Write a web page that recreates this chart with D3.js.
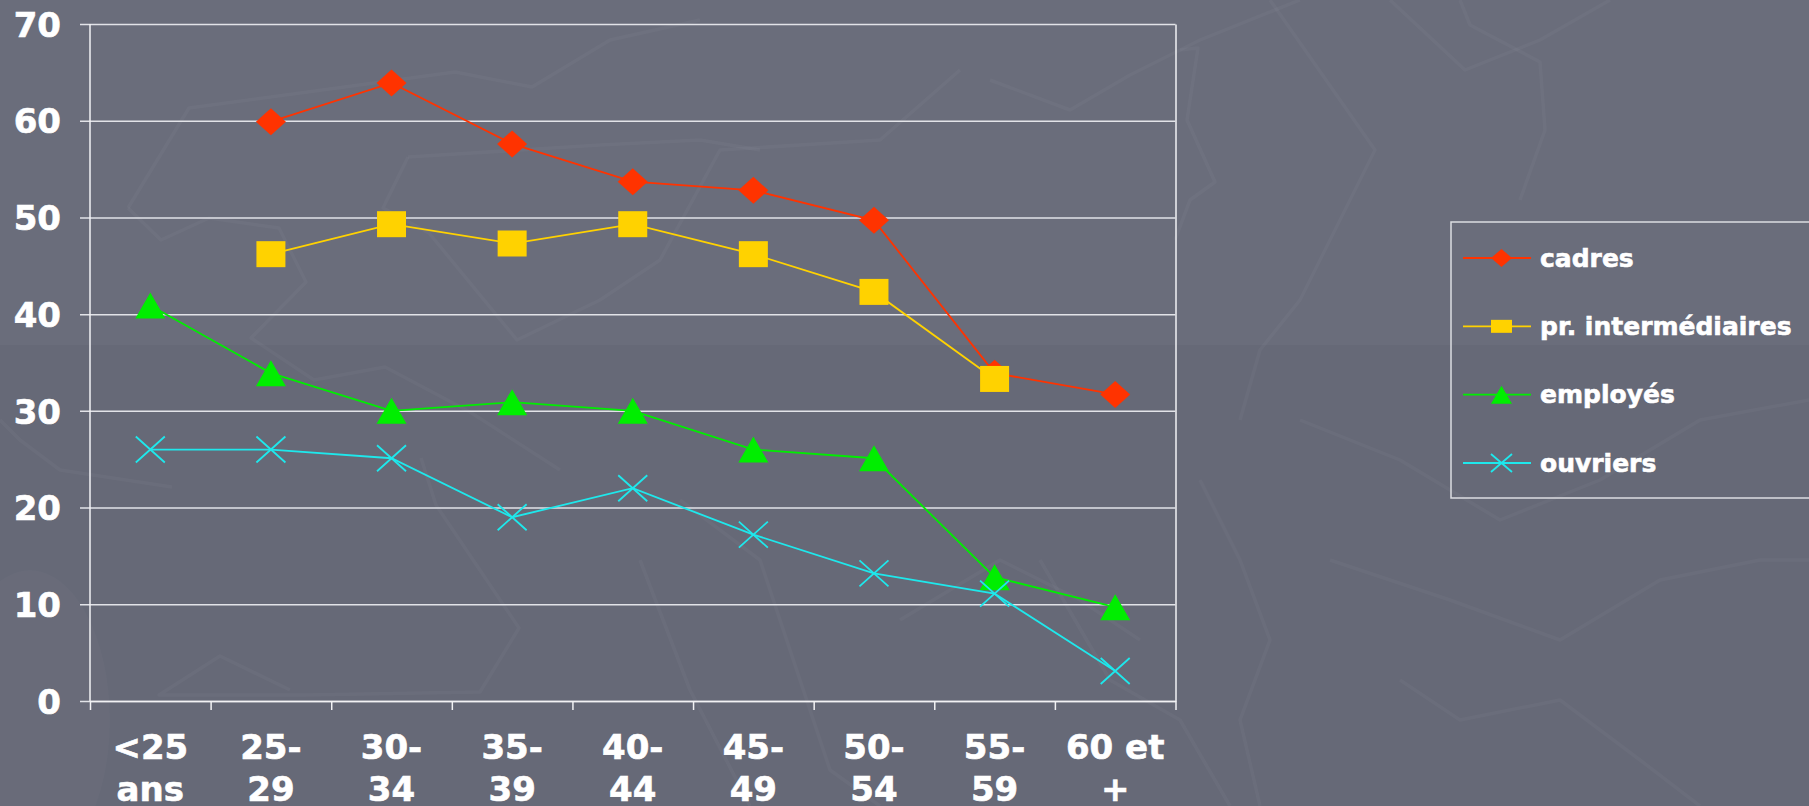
<!DOCTYPE html>
<html>
<head>
<meta charset="utf-8">
<script src="https://cdn.jsdelivr.net/npm/d3@7"></script>
<style>
  html, body { margin: 0; padding: 0; background: #686b79; }
  svg { display: block; }
  text { font-family: "DejaVu Sans", Verdana, sans-serif; font-weight: bold; fill: #ffffff;
         stroke: #ffffff; stroke-width: 0.6px; }
</style>
</head>
<body>
<svg id="chart" width="1809" height="806"></svg>
<script>
// Age groups (two-line axis labels)
const categories = ["<25 ans", "25-29", "30-34", "35-39", "40-44", "45-49", "50-54", "55-59", "60 et +"];
const categoryLines = [["<25", "ans"], ["25-", "29"], ["30-", "34"], ["35-", "39"], ["40-", "44"],
                       ["45-", "49"], ["50-", "54"], ["55-", "59"], ["60 et", "+"]];

// Series values per age group (null = no value)
const cadres   = [null, 59.9, 63.9, 57.6, 53.7, 52.8, 49.7, 33.9, 31.7];
const prInter  = [null, 46.2, 49.3, 47.3, 49.3, 46.2, 42.3, 33.3, null];
const employes = [40.9, 33.9, 30.0, 30.9, 30.0, 26.0, 25.1, 12.8, 9.7];
const ouvriers = [26.0, 26.0, 25.1, 19.0, 22.0, 17.2, 13.2, 11.1, 3.1];

const seriesNames = ["cadres", "pr. intermédiaires", "employés", "ouvriers"];
const yTicks = [0, 10, 20, 30, 40, 50, 60, 70];

const seriesList = [
  { name: seriesNames[0], values: cadres,   color: "#ff3300", marker: "diamond" },
  { name: seriesNames[1], values: prInter,  color: "#ffd200", marker: "square" },
  { name: seriesNames[2], values: employes, color: "#00ee00", marker: "triangle" },
  { name: seriesNames[3], values: ouvriers, color: "#1ee8ec", marker: "cross" }
];

const svg = d3.select("#chart");
const W = 1809, H = 806;
const plot = { left: 90, right: 1175.5, top: 24, bottom: 701 };

// ---- background: slate with faint map-like strokes ----
const bg = svg.append("g");
bg.append("rect").attr("width", W).attr("height", H).attr("fill", "#666977");
bg.append("rect").attr("width", W).attr("height", 345).attr("fill", "#6a6d7b");
bg.append("ellipse").attr("cx", 30).attr("cy", 720).attr("rx", 80).attr("ry", 150)
  .attr("fill", "rgba(255,255,255,0.02)");
const deco = [
  [[128,208],[189,108],[455,72],[532,87],[610,40],[700,20]],
  [[128,208],[161,240],[209,218],[279,228],[306,282],[251,338],[314,380],[385,367],[470,412],[560,470]],
  [[408,157],[383,208],[429,233],[517,340],[600,300],[660,260],[720,150],[880,140],[960,70]],
  [[408,157],[600,145],[700,140],[760,150]],
  [[172,487],[60,470],[20,440],[0,420]],
  [[421,458],[436,505],[519,628],[480,692],[306,695],[159,695],[220,656],[290,690]],
  [[680,500],[760,560],[830,770],[880,806]],
  [[640,560],[690,690],[750,806]],
  [[990,80],[1070,110],[1130,75],[1200,40],[1300,0]],
  [[1180,50],[1198,48],[1187,120],[1215,182],[1190,200],[1175,240]],
  [[1270,0],[1375,150],[1350,200],[1300,300],[1260,350],[1240,420]],
  [[1390,0],[1465,70],[1540,40],[1610,0]],
  [[1460,0],[1470,25],[1540,62],[1545,130],[1520,200]],
  [[1200,480],[1240,560],[1270,640],[1240,720],[1260,806]],
  [[1300,420],[1400,460],[1500,520],[1600,480],[1700,420],[1809,400]],
  [[1330,560],[1450,600],[1560,640],[1660,580],[1760,560],[1809,560]],
  [[1400,680],[1460,720],[1560,700],[1640,760],[1700,806]],
  [[1040,560],[1110,680],[1180,720],[1230,806]],
  [[900,620],[1000,560],[1080,600],[1140,640]]
];
bg.selectAll("path.deco").data(deco).join("path")
  .attr("class", "deco")
  .attr("d", d3.line())
  .attr("fill", "none")
  .attr("stroke", "rgba(255,255,255,0.03)")
  .attr("stroke-width", 3.5)
  .attr("stroke-linejoin", "round");

// ---- scales ----
const x = d3.scaleBand().domain(categories).range([plot.left, plot.right]).padding(0);
const xEdge = d3.scaleLinear().domain([0, categories.length]).range([plot.left, plot.right]);
const y = d3.scaleLinear().domain([0, 70]).range([plot.bottom, plot.top]);
const cx = c => x(c) + x.bandwidth() / 2;

// ---- y axis: gridlines + labels (axis anchored at the right border) ----
const yAxis = d3.axisLeft(y)
  .tickValues(yTicks)
  .tickSizeInner(plot.right - 80)
  .tickSizeOuter(0)
  .tickPadding(19)
  .tickFormat(d3.format("d"));
const gy = svg.append("g").attr("transform", `translate(${plot.right},0)`).call(yAxis);
gy.select(".domain").attr("stroke", "#f2f2f4").attr("stroke-width", 1.5);
gy.selectAll(".tick line").attr("stroke", "#e2e3e8").attr("stroke-width", 1.5);
gy.selectAll(".tick text")
  .attr("fill", "#ffffff")
  .style("font-family", "'DejaVu Sans', Verdana, sans-serif")
  .style("font-weight", "bold")
  .style("font-size", "34px")
  .attr("dy", "0.36em");

// left axis line
svg.append("line")
  .attr("x1", plot.left).attr("x2", plot.left)
  .attr("y1", plot.top).attr("y2", plot.bottom)
  .attr("stroke", "#f2f2f4").attr("stroke-width", 1.5);

// ---- x axis: ticks at group boundaries ----
const xAxis = d3.axisBottom(xEdge)
  .tickValues(d3.range(0, categories.length + 1))
  .tickSize(9)
  .tickSizeOuter(0)
  .tickFormat("");
const gx = svg.append("g").attr("transform", `translate(0,${plot.bottom})`).call(xAxis);
gx.select(".domain").attr("stroke", "#f2f2f4").attr("stroke-width", 1.5);
gx.selectAll(".tick line").attr("stroke", "#f2f2f4").attr("stroke-width", 1.5);

// category labels
const xl = svg.append("g").selectAll("text").data(categories).join("text")
  .attr("x", d => cx(d))
  .attr("y", 759)
  .attr("text-anchor", "middle")
  .style("font-size", "34px");
xl.each(function(d, i) {
  const t = d3.select(this);
  categoryLines[i].forEach((line, j) => {
    t.append("tspan").attr("x", cx(d)).attr("dy", j === 0 ? 0 : 42).text(line);
  });
});

// ---- marker shapes ----
function markerPath(type, px, py, w, h) {
  const p = d3.path();
  const hw = w / 2, hh = h / 2;
  if (type === "diamond") {
    p.moveTo(px, py - hh); p.lineTo(px + hw, py); p.lineTo(px, py + hh); p.lineTo(px - hw, py); p.closePath();
  } else if (type === "square") {
    p.rect(px - hw, py - hh, w, h);
  } else if (type === "triangle") {
    p.moveTo(px, py - hh); p.lineTo(px + hw, py + hh); p.lineTo(px - hw, py + hh); p.closePath();
  } else {
    p.moveTo(px - hw, py - hh); p.lineTo(px + hw, py + hh);
    p.moveTo(px + hw, py - hh); p.lineTo(px - hw, py + hh);
  }
  return p.toString();
}
const markerSize = {
  diamond: [30, 27], square: [29, 26], triangle: [30, 26], cross: [29, 26]
};

// ---- series lines and markers ----
const line = d3.line()
  .defined(d => d.v != null)
  .x(d => cx(d.c))
  .y(d => y(d.v));

seriesList.forEach(s => {
  const pts = categories.map((c, i) => ({ c, v: s.values[i] }));
  const g = svg.append("g");
  g.append("path")
    .datum(pts)
    .attr("d", line)
    .attr("fill", "none")
    .attr("stroke", s.color)
    .attr("stroke-width", 1.8);
  const [mw, mh] = markerSize[s.marker];
  g.selectAll("path.mk").data(pts.filter(d => d.v != null)).join("path")
    .attr("class", "mk")
    .attr("d", d => markerPath(s.marker, cx(d.c), y(d.v), mw, mh))
    .attr("fill", s.marker === "cross" ? "none" : s.color)
    .attr("stroke", s.marker === "cross" ? s.color : "none")
    .attr("stroke-width", 1.8);
});

// ---- legend ----
const legend = svg.append("g");
legend.append("rect")
  .attr("x", 1451).attr("y", 222)
  .attr("width", 420).attr("height", 276)
  .attr("fill", "none")
  .attr("stroke", "#dcdde2").attr("stroke-width", 1.5);
const legendMarker = {
  diamond: [21, 18], square: [21, 13], triangle: [21, 18], cross: [21, 18]
};
const rowY = d3.scaleLinear().domain([0, 3]).range([258, 463]);
seriesList.forEach((s, i) => {
  const ry = rowY(i);
  legend.append("line")
    .attr("x1", 1463).attr("x2", 1531)
    .attr("y1", ry).attr("y2", ry)
    .attr("stroke", s.color).attr("stroke-width", 1.8);
  const [mw, mh] = legendMarker[s.marker];
  legend.append("path")
    .attr("d", markerPath(s.marker, 1501.5, ry, mw, mh))
    .attr("fill", s.marker === "cross" ? "none" : s.color)
    .attr("stroke", s.marker === "cross" ? s.color : "none")
    .attr("stroke-width", 1.8);
  legend.append("text")
    .attr("x", 1540).attr("y", ry + 8.5)
    .style("font-size", "25px")
    .text(s.name);
});
</script>
</body>
</html>
